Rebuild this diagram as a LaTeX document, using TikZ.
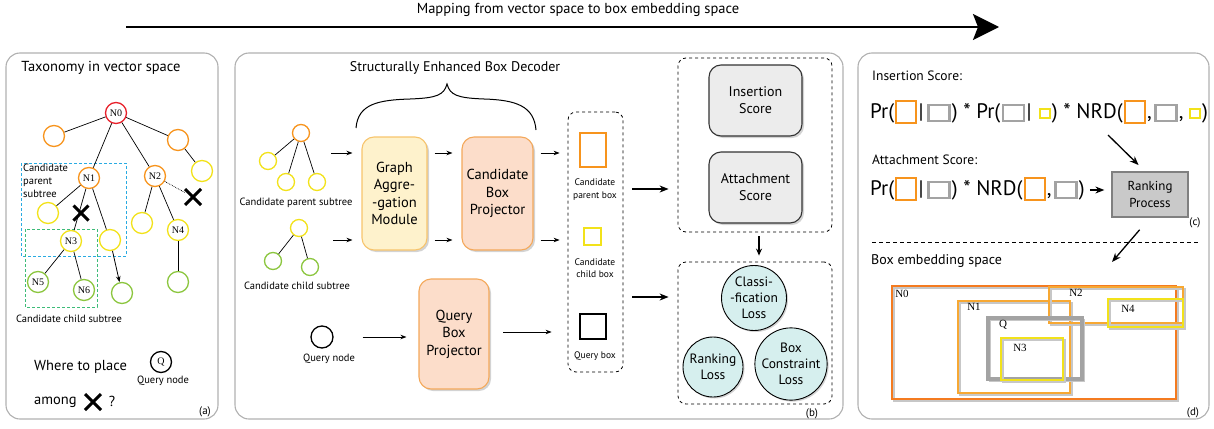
\documentclass[tikz,border=0pt]{standalone}
\usepackage{fontspec}
\setmainfont{PT Sans}
\newfontfamily\labelserif{Liberation Serif}
\usetikzlibrary{arrows.meta,shadows,shapes.misc,positioning}

\newcommand\fsz[2]{\fontsize{#1}{#2}\selectfont}

\definecolor{tnorange}{HTML}{F7941D}
\definecolor{tnred}{HTML}{E8202A}
\definecolor{tnyellow}{HTML}{F2E21A}
\definecolor{tngreen}{HTML}{8CC63F}
\definecolor{tncyan}{HTML}{29ABE2}
\definecolor{tndkgreen}{HTML}{3DBB78}
\definecolor{panelgray}{HTML}{B0B0B0}
\definecolor{gamfill}{HTML}{FEF2CC}
\definecolor{gamdraw}{HTML}{F7C46C}
\definecolor{projfill}{HTML}{FCDDCA}
\definecolor{projdraw}{HTML}{F4A85A}
\definecolor{scorefill}{HTML}{ECECEC}
\definecolor{lossfill}{HTML}{D6EFEE}
\definecolor{rankfill}{HTML}{C9C9C9}
\definecolor{boxgray}{HTML}{A3A3A3}
\definecolor{embN0}{HTML}{F47B20}
\definecolor{embN1}{HTML}{F7A833}

\tikzset{
  panel/.style={draw=panelgray, line width=1.1pt, rounded corners=14pt},
  tnode/.style={circle, draw, line width=1.3pt, fill=white, minimum size=21pt, inner sep=0pt, font=\labelserif\fsz{10}{10}},
  stnode/.style={circle, draw, line width=1.3pt, fill=white, minimum size=17pt, inner sep=0pt},
  tline/.style={line width=0.7pt},
  crossmark/.style={cross out, draw=black, line width=3pt, minimum size=12pt, inner sep=0pt},
  subframe/.style={densely dashed, line width=0.9pt},
  flow/.style={line width=0.8pt, -{Stealth[length=6pt,width=4.5pt]}},
  thickflow/.style={line width=1.6pt, -{Stealth[length=9pt,width=7pt]}},
  module/.style={rounded corners=12pt, line width=1.1pt, align=center, inner sep=0pt, font=\fsz{14.5}{17.5}, drop shadow={shadow xshift=2pt, shadow yshift=-2pt, opacity=0.35}},
  dashgroup/.style={draw, dashed, line width=0.8pt, rounded corners=8pt, inner sep=0pt},
  lossball/.style={circle, draw, fill=lossfill, line width=0.9pt, align=center, inner sep=0pt, font=\fsz{13.5}{16}, drop shadow={shadow xshift=1.5pt, shadow yshift=-1.5pt, opacity=0.35}},
  smalltext/.style={font=\fsz{10.5}{13}, inner sep=0pt, align=center},
  tinytext/.style={font=\fsz{9.5}{12.5}, inner sep=0pt, align=center},
  eqtext/.style={font=\fsz{21}{21}, inner sep=0pt, text height=15pt, text depth=5pt},
  eqorange/.style={draw=tnorange, line width=2pt, minimum width=20pt, minimum height=22pt, inner sep=0pt},
  eqgray/.style={draw=boxgray, line width=2.8pt, minimum width=21pt, minimum height=16pt, inner sep=0pt},
  eqyellow/.style={draw=tnyellow, line width=2pt, minimum width=10pt, minimum height=9pt, inner sep=0pt},
  embshade/.style={draw=black!22, line width=2pt},
  emblabel/.style={font=\labelserif\fsz{11}{11}, inner sep=0pt},
}

\newcommand\embbox[4]{\draw[embshade, shift={(1.8,1.8)}] #3 rectangle #4; \draw[draw=#1, line width=#2] #3 rectangle #4;}

\begin{document}
\begin{tikzpicture}[x=1pt,y=-1pt]
		%%%%% START %%%%%
		\useasboundingbox (0,0) rectangle (1214,428);
		
		% mapping arrow on top
		\node[font=\fsz{14.5}{16}] (maptitle) at (578,10) {Mapping from vector space to box embedding space};
		\coordinate (mapstart) at (126,27);
		\coordinate (mapend) at (999,27);
		\draw[line width=2.7pt, -{Stealth[length=26pt,width=26pt,inset=5pt]}] (mapstart) -- (mapend);
		
		\draw[panel] (6,53) rectangle (218,419);
		\draw[panel] (235,53) rectangle (843,419);
		\draw[panel] (858,53) rectangle (1209,419);
		
		%%%%% (a) taxonomy %%%%%
		\node[font=\fsz{14.5}{16}] (taxtitle) at (101,68) {Taxonomy in vector space};
		\draw[subframe, draw=tncyan] (21,163) rectangle (126,256);
		\draw[subframe, draw=tndkgreen] (25,229) rectangle (97,307);
		
		\node[tnode, draw=tnred] (n0) at (116,113) {N0};
		\node[tnode, draw=tnorange] (lo) at (54,136) {};
		\node[tnode, draw=tnorange] (ro) at (178,140) {};
		\node[tnode, draw=tnyellow] (ry) at (202,171) {};
		\node[tnode, draw=tnorange] (n1) at (89,178) {N1};
		\node[tnode, draw=tnorange] (n2) at (155,176) {N2};
		\node[tnode, draw=tnyellow] (n1y) at (48,213) {};
		\node[tnode, draw=tnyellow] (n2y) at (142,223) {};
		\node[tnode, draw=tnyellow] (n4) at (178,230) {N4};
		\node[tnode, draw=tnyellow] (n3) at (71,241) {N3};
		\node[tnode, draw=tnyellow] (n1r) at (110,240) {};
		\node[tnode, draw=tngreen] (n5) at (38,282) {N5};
		\node[tnode, draw=tngreen] (n6) at (84,290) {N6};
		\node[tnode, draw=tngreen] (newg) at (122,293) {};
		\node[tnode, draw=tngreen] (n4g) at (178,282) {};
		
		\draw[tline] (n0) -- (lo);
		\draw[tline] (n0) -- (ro);
		\draw[tline] (ro) -- (ry);
		\draw[tline] (n0) -- (n1);
		\draw[tline] (n0) -- (n2);
		\draw[tline] (n1) -- (n1y);
		\draw[tline] (n1) -- (n3);
		\draw[tline] (n1) -- (n1r);
		\draw[tline] (n2) -- (n2y);
		\draw[tline] (n2) -- (n4);
		\draw[tline] (n4) -- (n4g);
		\draw[tline] (n3) -- (n5);
		\draw[tline] (n3) -- (n6);
		\draw[flow] (n1r) -- (newg);
		
		\node[crossmark] (x1) at (81,213) {};
		\node[crossmark, minimum size=13pt] (x2) at (193,197) {};
		\draw[tline, densely dotted] (n2) -- (x2);
		
		\node[anchor=north west, align=left, font=\fsz{10.5}{13}, inner sep=0pt] (ptlabel) at (23,164) {Candidate\\parent\\subtree};
		\node[smalltext] (ctlabel) at (69,319) {Candidate child subtree};
		
		\node[anchor=west, font=\fsz{14.5}{16}, inner sep=0pt] (wherelabel) at (34,367) {Where to place};
		\node[tnode, draw=black] (qa) at (161,362) {Q};
		\node[smalltext] (qalabel) at (163,381) {Query node};
		\node[anchor=west, font=\fsz{14.5}{16}, inner sep=0pt] (amonglabel) at (34,402) {among};
		\node[crossmark, minimum size=13pt] (x3) at (93,402) {};
		\node[font=\fsz{14.5}{16}, inner sep=0pt] (qmark) at (112,401) {?};
		\node[font=\fsz{11}{12}] (taga) at (205,412) {(a)};
		
		%%%%% (b) box decoder %%%%%
		\node[font=\fsz{14}{16}] (sebtitle) at (455,68) {Structurally Enhanced Box Decoder};
		\draw[line width=1pt] (356,128) .. controls (358,104) and (378,100) .. (410,99)
		  .. controls (437,98) and (444,95) .. (447,84)
		  .. controls (450,95) and (457,98) .. (484,99)
		  .. controls (516,100) and (534,106) .. (536,130);
		
		\node[stnode, draw=tnorange] (pr) at (301,133) {};
		\node[stnode, draw=tnyellow] (pc1) at (268,161) {};
		\node[stnode, draw=tnyellow] (pc2) at (286,182) {};
		\node[stnode, draw=tnyellow] (pc3) at (317,182) {};
		\draw[tline] (pr) -- (pc1);
		\draw[tline] (pr) -- (pc2);
		\draw[tline] (pr) -- (pc3);
		\node[smalltext] (pslabel) at (296,203) {Candidate parent subtree};
		
		\node[stnode, draw=tnyellow] (cr) at (299,228) {};
		\node[stnode, draw=tngreen] (cc1) at (273,261) {};
		\node[stnode, draw=tngreen] (cc2) at (310,267) {};
		\draw[tline] (cr) -- (cc1);
		\draw[tline] (cr) -- (cc2);
		\node[smalltext] (cslabel) at (297,286) {Candidate child subtree};
		
		\node[stnode, draw=black, minimum size=22pt] (qn) at (322,337) {};
		\node[smalltext] (qnlabel) at (329,359) {Query node};
		
		\node[module, fill=gamfill, draw=gamdraw, minimum width=65pt, minimum height=113pt] (gam) at (394.5,193.5) {Graph\\Aggre-\\-gation\\Module};
		\node[module, fill=projfill, draw=projdraw, minimum width=71pt, minimum height=113pt] (proj) at (497.5,193.5) {Candidate\\Box\\Projector};
		\node[module, fill=projfill, draw=projdraw, minimum width=70pt, minimum height=110pt] (qproj) at (454,334) {Query\\Box\\Projector};
		
		\coordinate (psin) at (331,153);
		\coordinate (csin) at (333,240);
		\draw[flow, shorten >=9pt] (psin) -- (psin -| gam.west);
		\draw[flow, shorten >=9pt] (csin) -- (csin -| gam.west);
		\draw[flow, shorten <=7pt, shorten >=9pt] (gam.east |- psin) -- (proj.west |- psin);
		\draw[flow, shorten <=7pt, shorten >=9pt] (gam.east |- csin) -- (proj.west |- csin);
		\draw[flow, shorten <=29pt, shorten >=12pt] (qn.east) -- (qn.east -| qproj.west);
		
		% box outputs
		\node[dashgroup, minimum width=55pt, minimum height=260pt] (boxgroup) at (595.5,242) {};
		\node[draw=tnorange, line width=2pt, minimum width=26pt, minimum height=34pt, inner sep=0pt] (pbox) at (593,150) {};
		\node[tinytext] (pboxlabel) at (595,189.5) {Candidate\\parent box};
		\node[draw=tnyellow, line width=2pt, minimum width=17pt, minimum height=17pt, inner sep=0pt] (cbox) at (592.5,236.5) {};
		\node[tinytext] (cboxlabel) at (595,268) {Candidate\\child box};
		\node[draw=black, line width=2pt, minimum width=26pt, minimum height=25pt, inner sep=0pt] (qbox) at (593,326.5) {};
		\node[tinytext] (qboxlabel) at (595,356) {Query box};
		
		\draw[flow, shorten <=7pt, shorten >=8pt] (proj.east |- psin) -- (boxgroup.west |- psin);
		\draw[flow, shorten <=7pt, shorten >=8pt] (proj.east |- csin) -- (boxgroup.west |- csin);
		\coordinate (qout) at (503,332);
		\draw[flow, shorten >=16pt] (qout) -- (qout -| boxgroup.west);
		
		% scores and losses
		\node[dashgroup, minimum width=154pt, minimum height=174pt] (scoregroup) at (755,145) {};
		\node[module, fill=scorefill, draw=black!80, font=\fsz{14}{17}, minimum width=93pt, minimum height=71pt] (insbox) at (755.5,100.5) {Insertion\\Score};
		\node[module, fill=scorefill, draw=black!80, font=\fsz{14}{17}, minimum width=93pt, minimum height=71pt] (attbox) at (755.5,187.5) {Attachment\\Score};
		
		\node[dashgroup, minimum width=154pt, minimum height=142pt] (lossgroup) at (755,333) {};
		\node[lossball, minimum size=65pt] (clsloss) at (754,298) {Classi-\\-fication\\Loss};
		\node[lossball, minimum size=60pt] (rankloss) at (713,367) {Ranking\\Loss};
		\node[lossball, minimum size=64pt] (bcloss) at (791,364) {Box\\Constraint\\Loss};
		
		\draw[thickflow, shorten <=9pt, shorten >=9pt] (boxgroup.east |- 0,189) -- (scoregroup.west |- 0,189);
		\draw[thickflow, shorten <=9pt, shorten >=9pt] (boxgroup.east |- 0,297) -- (lossgroup.west |- 0,297);
		\draw[line width=1.2pt, -{Stealth[length=7pt,width=6pt]}, shorten <=4pt, shorten >=6pt] ([xshift=4pt]scoregroup.south) -- ([xshift=4pt]lossgroup.north);
		\node[font=\fsz{11}{12}] (tagb) at (812,414) {(b)};
		
		%%%%% (c) scores %%%%%
		\node[anchor=west, font=\fsz{13.5}{15}, inner sep=0pt] (inslabel) at (872,76) {Insertion Score:};
		\node[eqtext, anchor=west] (ins1) at (870,113) {Pr(};
		\node[eqorange, right=1pt of ins1, yshift=1pt] (insA) {};
		\node[eqtext, right=1pt of ins1.east -| insA.east] (ins2) {|};
		\node[eqgray, right=3pt of ins2] (insB) {};
		\node[eqtext, right=1pt of insB.east |- ins1.east] (ins3) {) * Pr(};
		\node[eqgray, right=1pt of ins3] (insC) {};
		\node[eqtext, right=1pt of insC.east |- ins1.east] (ins4) {|};
		\node[eqyellow, right=7pt of ins4] (insD) {};
		\node[eqtext, right=1pt of insD.east |- ins1.east] (ins5) {) * NRD(};
		\node[eqorange, right=1pt of ins5, yshift=1pt] (insE) {};
		\node[eqtext, right=1pt of insE.east |- ins1.east] (ins6) {,};
		\node[eqgray, right=2pt of ins6] (insF) {};
		\node[eqtext, right=1pt of insF.east |- ins1.east] (ins7) {,};
		\node[eqyellow, right=5pt of ins7] (insG) {};
		\node[eqtext, right=1pt of insG.east |- ins1.east] (ins8) {)};
		
		\node[anchor=west, font=\fsz{13.5}{15}, inner sep=0pt] (attlabel) at (872,160) {Attachment Score:};
		\node[eqtext, anchor=west] (att1) at (870,190) {Pr(};
		\node[eqorange, right=1pt of att1, yshift=1pt] (attA) {};
		\node[eqtext, right=1pt of att1.east -| attA.east] (att2) {|};
		\node[eqgray, right=3pt of att2] (attB) {};
		\node[eqtext, right=1pt of attB.east |- att1.east] (att3) {) * NRD(};
		\node[eqorange, right=1pt of att3, yshift=1pt] (attC) {};
		\node[eqtext, right=1pt of attC.east |- att1.east] (att4) {,};
		\node[eqgray, right=2pt of att4] (attD) {};
		\node[eqtext, right=1pt of attD.east |- att1.east] (att5) {)};
		
		\node[draw=black!50, fill=rankfill, line width=1.3pt, minimum width=76pt, minimum height=45pt, align=center, inner sep=0pt, font=\fsz{13}{17}] (rank) at (1150,194.5) {Ranking\\Process};
		\draw[thickflow, line width=1.3pt, shorten <=5pt, shorten >=7pt] (att5.east) -- (att5.east -| rank.west);
		\coordinate (insout) at (1108,135);
		\draw[thickflow, line width=1.3pt, shorten >=9pt] (insout) -- ([xshift=-5pt]rank.north);
		\node[font=\fsz{11}{12}] (tagc) at (1195,223) {(c)};
		
		\coordinate (sepL) at (872,242);
		\coordinate (sepR) at (1198,242);
		\draw[dashed, line width=1pt, dash pattern=on 4pt off 3pt] (sepL) -- (sepR);
		
		%%%%% (d) box embedding %%%%%
		\node[anchor=west, font=\fsz{14}{15}, inner sep=0pt] (emblabel) at (871,261) {Box embedding space};
		\coordinate (embin) at (1112,262);
		\draw[thickflow, line width=1.3pt, shorten <=16pt] (rank.south) -- (embin);
		
		\embbox{embN0}{2.2pt}{(892,286)}{(1176,399)}
		\embbox{embN1}{2pt}{(958,301)}{(1070,393)}
		\embbox{embN1}{2pt}{(1049,287)}{(1183,323)}
		\embbox{tnyellow}{2pt}{(1108,299)}{(1183,327)}
		\embbox{boxgray}{3.5pt}{(988,318)}{(1082,379)}
		\embbox{tnyellow}{2pt}{(1001,338)}{(1063,380)}
		\node[emblabel] (lN0) at (902,294) {N0};
		\node[emblabel] (lN1) at (974,307) {N1};
		\node[emblabel] (lN2) at (1076,293) {N2};
		\node[emblabel] (lN4) at (1128,309) {N4};
		\node[emblabel] (lQ) at (1003,325) {Q};
		\node[emblabel] (lN3) at (1020,348) {N3};
		\node[font=\fsz{11}{12}] (tagd) at (1193,413) {(d)};
		
		%%%%% END %%%%%
\end{tikzpicture}
\end{document}
